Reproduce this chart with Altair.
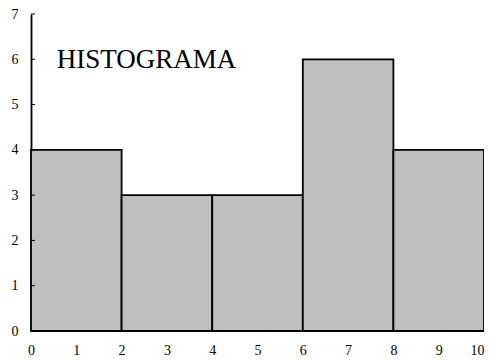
import altair as alt
import pandas as pd

bin_start = [0, 2, 4, 6, 8]
bin_end = [2, 4, 6, 8, 10]
counts = [4, 3, 3, 6, 4]
x_ticks = list(range(0, 11))
y_ticks = list(range(0, 8))
title_text = ["HISTOGRAMA"]
title_x = [2.55]
title_y = [5.8]

bars = pd.DataFrame({"start": bin_start, "end": bin_end, "count": counts})
yt = pd.DataFrame({"y": y_ticks})
lbl = pd.DataFrame({"t": title_text, "x": title_x, "y": title_y})

FONT = "Liberation Serif"

xs = alt.Scale(domain=[0, 10], nice=False, zero=False)
ys = alt.Scale(domain=[0, 7], nice=False)

rects = alt.Chart(bars).mark_rect(
    fill="#bfbfbf", stroke="black", strokeWidth=1.8
).encode(
    x=alt.X("start:Q", scale=xs, axis=alt.Axis(
        values=x_ticks, title=None, grid=False, domain=False, ticks=False,
        labelPadding=12, labelFontSize=14, labelFont=FONT, labelColor="black",
        labelAlign=alt.ExprRef(expr="datum.value == 10 ? 'right' : 'center'"),
        labelFlush=False, labelOverlap=False)),
    x2="end:Q",
    y=alt.Y("count:Q", scale=ys, axis=alt.Axis(
        values=y_ticks, title=None, grid=False, domain=True, domainColor="black",
        domainWidth=1.8, ticks=False, labelPadding=13, labelFontSize=14,
        labelFont=FONT, labelColor="black", labelFlush=False, labelOverlap=False)),
    y2=alt.datum(0),
)

ticks = alt.Chart(yt).mark_rule(color="black", strokeWidth=1).encode(
    y=alt.Y("y:Q", scale=ys),
    x=alt.value(0),
    x2=alt.value(4),
)

text = alt.Chart(lbl).mark_text(
    font=FONT, fontSize=27, color="black", baseline="alphabetic", align="center"
).encode(
    x=alt.X("x:Q", scale=xs),
    y=alt.Y("y:Q", scale=ys),
    text="t:N",
)

chart = alt.layer(rects, ticks, text).properties(
    width=453, height=317,
    autosize=alt.AutoSizeParams(type="none"),
    padding={"left": 23, "top": 6, "right": 0, "bottom": 30},
).configure(background="white").configure_view(stroke=None)

chart.save("out.html", embed_options={"renderer": "svg", "actions": False})
